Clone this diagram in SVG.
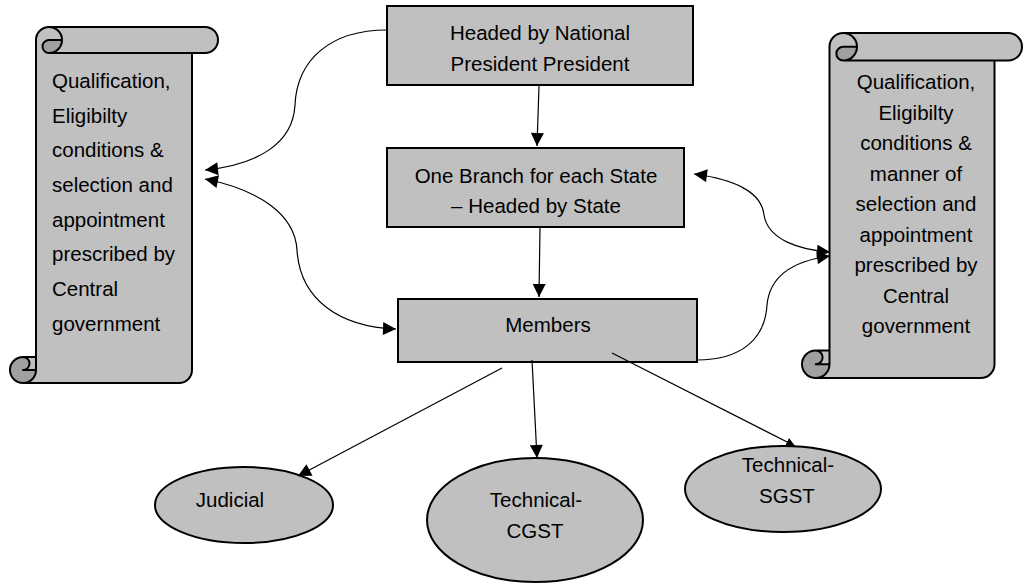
<svg xmlns="http://www.w3.org/2000/svg" width="1024" height="585" viewBox="0 0 1024 585">
<defs>
<style>
.shape{fill:#c0c0c0;stroke:#000;stroke-width:2}
.fillonly{fill:#c0c0c0;stroke:none}
.dark{fill:#a0a0a0;stroke:none}
.outline{fill:none;stroke:#000;stroke-width:2;stroke-linejoin:round}
.t{font-family:"Liberation Sans",Arial,sans-serif;font-size:20.5px;fill:#000}
.c{text-anchor:middle}
.conn{fill:none;stroke:#000;stroke-width:1.2}
</style>
<marker id="ah" viewBox="0 0 10 10" refX="10" refY="5" markerWidth="14" markerHeight="13" markerUnits="userSpaceOnUse" orient="auto-start-reverse">
<path d="M0,0 L10,5 L0,10 Z" fill="#000"/>
</marker>
<marker id="ahs" viewBox="0 0 10 10" refX="10" refY="5" markerWidth="9" markerHeight="9" markerUnits="userSpaceOnUse" orient="auto">
<path d="M0,0 L10,5 L0,10 Z" fill="#000"/>
</marker>
</defs>
<rect width="1024" height="585" fill="#fff"/>

<g id="scroll-left">
<path class="fillonly" d="M36,357 L36,40 A13,13 0 0 1 49,27 L205,27 A13,13 0 0 1 205,53 L192,53 L192,370 A13,13 0 0 1 179,383 L23,383 A13,13 0 0 1 23,357 Z"/>
<path class="dark" d="M62,40 A13,13 0 0 1 49,53 A6.5,6.5 0 0 1 49,40 Z M36,370 A13,13 0 1 1 23,357 A6.5,6.5 0 0 1 23,370 Z"/>
<path class="outline" d="M36,357 L36,40 A13,13 0 0 1 49,27 L205,27 A13,13 0 0 1 205,53 L192,53 L192,370 A13,13 0 0 1 179,383 L23,383 A13,13 0 0 1 23,357 Z M49,27 A13,13 0 0 1 49,53 A6.5,6.5 0 0 1 49,40 L62,40 M192,53 L49,53 M23,357 A6.5,6.5 0 0 1 23,370 L36,370 M23,383 A13,13 0 0 0 36,370 L36,357"/>
<text class="t" x="52" y="88">Qualification,</text>
<text class="t" x="52" y="122.5">Eligibilty</text>
<text class="t" x="52" y="157">conditions &amp;</text>
<text class="t" x="52" y="192">selection and</text>
<text class="t" x="52" y="226.5">appointment</text>
<text class="t" x="52" y="261">prescribed by</text>
<text class="t" x="52" y="296">Central</text>
<text class="t" x="52" y="330.5">government</text>
</g>

<g id="scroll-right">
<path class="fillonly" d="M829.5,350.5 L829.5,46.75 A13.75,13.75 0 0 1 843.25,33 L1008.25,33 A13.75,13.75 0 0 1 1008.25,60.5 L994.5,60.5 L994.5,364.25 A13.75,13.75 0 0 1 980.75,378 L815.75,378 A13.75,13.75 0 0 1 815.75,350.5 Z"/>
<path class="dark" d="M857,46.75 A13.75,13.75 0 0 1 843.25,60.5 A6.875,6.875 0 0 1 843.25,46.75 Z M829.5,364.25 A13.75,13.75 0 1 1 815.75,350.5 A6.875,6.875 0 0 1 815.75,364.25 Z"/>
<path class="outline" d="M829.5,350.5 L829.5,46.75 A13.75,13.75 0 0 1 843.25,33 L1008.25,33 A13.75,13.75 0 0 1 1008.25,60.5 L994.5,60.5 L994.5,364.25 A13.75,13.75 0 0 1 980.75,378 L815.75,378 A13.75,13.75 0 0 1 815.75,350.5 Z M843.25,33 A13.75,13.75 0 0 1 843.25,60.5 A6.875,6.875 0 0 1 843.25,46.75 L857,46.75 M994.5,60.5 L843.25,60.5 M815.75,350.5 A6.875,6.875 0 0 1 815.75,364.25 L829.5,364.25 M815.75,378 A13.75,13.75 0 0 0 829.5,364.25 L829.5,350.5"/>
<text class="t c" x="916" y="89">Qualification,</text>
<text class="t c" x="916" y="119.5">Eligibilty</text>
<text class="t c" x="916" y="150">conditions &amp;</text>
<text class="t c" x="916" y="180.5">manner of</text>
<text class="t c" x="916" y="211">selection and</text>
<text class="t c" x="916" y="241.5">appointment</text>
<text class="t c" x="916" y="272">prescribed by</text>
<text class="t c" x="916" y="302.5">Central</text>
<text class="t c" x="916" y="333">government</text>
</g>

<g id="node-national">
<rect class="shape" x="387" y="6" width="306" height="79"/>
<text class="t c" x="540" y="40">Headed by National</text>
<text class="t c" x="540" y="71">President President</text>
</g>

<g id="node-branch">
<rect class="shape" x="387" y="148" width="297" height="79"/>
<text class="t c" x="536" y="183">One Branch for each State</text>
<text class="t c" x="536" y="213">– Headed by State</text>
</g>

<g id="node-members">
<rect class="shape" x="398" y="299" width="299" height="63"/>
<text class="t c" x="548" y="332">Members</text>
</g>

<g id="node-judicial">
<ellipse class="shape" cx="244" cy="505" rx="89" ry="38"/>
<text class="t c" x="230" y="507">Judicial</text>
</g>

<g id="node-cgst">
<ellipse class="shape" cx="535" cy="520" rx="108" ry="62"/>
<text class="t c" x="536" y="507">Technical-</text>
<text class="t c" x="535" y="538">CGST</text>
</g>

<g id="node-sgst">
<ellipse class="shape" cx="783" cy="489" rx="98" ry="43"/>
<text class="t c" x="788" y="472">Technical-</text>
<text class="t c" x="787" y="503">SGST</text>
</g>

<g id="connectors">
<path class="conn" d="M539,86 L537,146" marker-end="url(#ah)"/>
<path class="conn" d="M540,227 L539,297" marker-end="url(#ah)"/>
<path class="conn" d="M387,30 C330,30 297,60 295,105 C293,145 255,165 205,170" marker-end="url(#ah)"/>
<path class="conn" d="M205,179 C260,190 295,215 297,250 C300,300 340,327 396,329" marker-start="url(#ah)" marker-end="url(#ah)"/>
<path class="conn" d="M694,174 C740,180 762,195 764,215 C768,240 800,250 830,252" marker-start="url(#ah)" marker-end="url(#ah)"/>
<path class="conn" d="M697,360 C740,360 765,340 767,305 C770,272 800,260 830,256" marker-end="url(#ah)"/>
<path class="conn" d="M502,368 L298,476" marker-end="url(#ah)"/>
<path class="conn" d="M532,360 L537,458" marker-end="url(#ah)"/>
<path class="conn" d="M612,353 L795,446" marker-end="url(#ahs)"/>
</g>
</svg>
